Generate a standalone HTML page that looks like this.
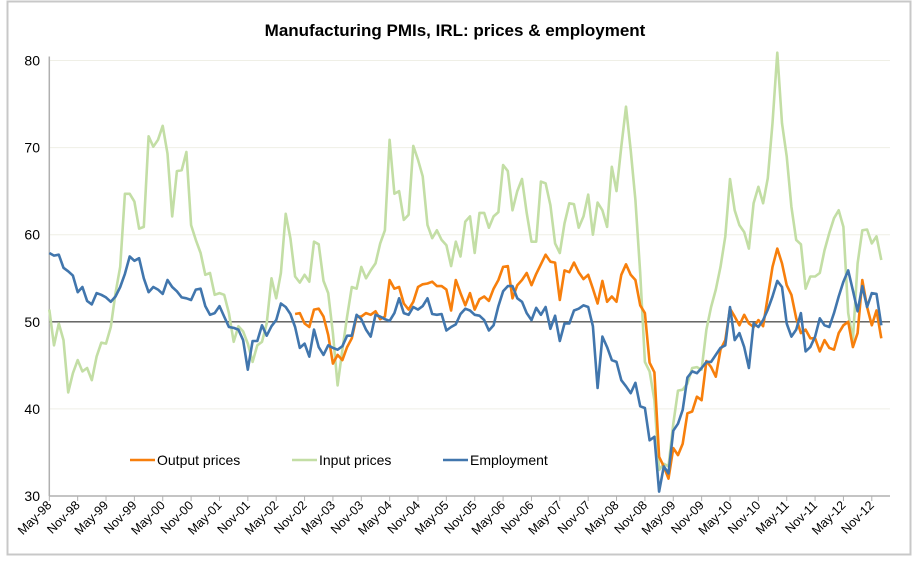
<!DOCTYPE html>
<html><head><meta charset="utf-8"><style>
html,body{margin:0;padding:0;background:#fff;}
svg{display:block;font-family:"Liberation Sans",sans-serif;}
</style></head><body>
<svg id="chart" width="919" height="562" xmlns="http://www.w3.org/2000/svg">
<rect x="7.5" y="1.5" width="903" height="553" fill="#fff" stroke="#c8c8c8" stroke-width="2"/>
<text x="455" y="36" text-anchor="middle" font-size="17" font-weight="bold" fill="#000">Manufacturing PMIs, IRL: prices &amp; employment</text>
<g id="grid"></g><g id="axes"></g><g id="series"></g><g id="legend"></g>
</svg>
<script>
const yTicks=[30,40,50,60,70,80];
const xLabels=["May-98","Nov-98","May-99","Nov-99","May-00","Nov-00","May-01","Nov-01","May-02","Nov-02","May-03","Nov-03","May-04","Nov-04","May-05","Nov-05","May-06","Nov-06","May-07","Nov-07","May-08","Nov-08","May-09","Nov-09","May-10","Nov-10","May-11","Nov-11","May-12","Nov-12"];
const employment=[57.9,57.6,57.7,56.2,55.8,55.3,53.4,54.0,52.4,52.0,53.3,53.1,52.8,52.3,52.9,54.0,55.5,57.5,57.0,57.3,55.0,53.4,54.0,53.7,53.2,54.8,54.0,53.5,52.8,52.7,52.5,53.7,53.8,51.8,50.8,51.0,51.8,50.6,49.4,49.3,49.1,47.9,44.5,47.8,47.8,49.6,48.4,49.5,50.2,52.1,51.7,50.9,49.4,47.0,47.5,46.0,49.1,47.1,46.2,47.3,47.0,46.8,47.2,48.4,48.4,50.8,50.3,49.1,48.3,50.8,50.6,50.3,50.1,51.0,52.7,51.0,50.8,51.7,51.4,51.8,52.7,50.9,50.8,50.9,49.0,49.4,49.7,50.9,51.5,51.3,50.8,50.7,50.2,49.0,49.6,51.8,53.5,54.1,54.1,52.7,52.3,51.0,50.2,51.6,50.8,51.7,49.2,50.7,47.8,49.8,49.8,51.3,51.5,51.9,51.7,49.5,42.4,48.3,47.1,45.6,45.4,43.3,42.6,41.8,43.0,40.3,40.1,36.4,36.8,30.5,33.4,32.6,37.5,38.3,39.9,43.6,44.3,44.1,44.7,45.4,45.4,46.2,47.0,47.3,51.7,47.9,48.7,47.1,44.7,49.8,49.4,50.2,51.4,52.9,54.7,54.0,49.8,48.3,49.1,51.0,46.6,47.1,48.3,50.4,49.6,49.4,51.0,52.9,54.6,55.9,53.6,51.2,54.1,51.7,53.3,53.2,49.6];
const inputPrices=[51.4,47.3,49.8,47.9,41.9,44.1,45.6,44.3,44.7,43.3,46.0,47.6,47.5,49.4,53.3,56.3,64.7,64.7,63.8,60.7,60.9,71.3,70.1,70.9,72.5,69.3,62.1,67.3,67.4,69.5,61.1,59.4,57.9,55.4,55.6,53.1,53.3,53.1,51.0,47.7,49.5,48.9,47.5,45.4,47.3,47.7,49.8,55.0,52.7,55.6,62.4,59.6,55.2,54.5,55.4,54.6,59.2,58.9,54.7,53.3,48.7,42.7,46.8,50.6,54.0,53.8,56.3,55.0,55.9,56.7,59.0,60.5,70.9,64.7,65.0,61.7,62.3,70.2,68.6,66.7,61.1,59.6,60.5,59.4,58.8,56.4,59.2,57.5,61.5,62.1,57.9,62.5,62.5,60.8,62.1,62.6,68.0,67.3,62.8,65.0,66.4,62.5,59.2,59.2,66.1,65.9,63.4,59.0,57.9,61.3,63.6,63.5,60.8,62.1,64.6,60.0,63.7,62.8,60.9,67.8,65.0,70.1,74.7,69.7,64.0,55.6,45.4,44.3,41.0,33.0,33.7,33.4,38.3,42.1,42.2,42.9,44.7,44.8,44.5,49.1,51.7,53.7,56.3,59.8,66.4,62.8,61.1,60.3,58.4,63.6,65.5,63.6,66.5,72.8,80.9,72.8,69.0,63.2,59.4,58.9,53.8,55.2,55.2,55.6,58.2,60.2,61.9,62.8,60.9,51.0,47.9,56.7,60.5,60.6,59.0,59.8,57.1];
const outputStart=52;
const outputPrices=[50.9,51.0,49.8,49.4,51.4,51.5,50.6,48.5,45.2,46.2,45.6,47.1,48.1,50.6,50.6,51.0,50.8,51.2,50.3,50.6,54.8,53.8,54.0,52.1,51.4,52.3,54.0,54.3,54.4,54.6,54.1,54.1,53.7,51.3,54.8,53.3,51.9,53.3,51.4,52.6,52.9,52.4,53.8,54.8,56.3,56.4,52.7,54.2,54.8,55.6,54.2,55.5,56.6,57.7,56.9,56.8,52.5,55.9,55.7,56.8,55.7,54.9,55.4,53.8,52.1,54.7,52.3,52.9,52.3,55.4,56.6,55.4,54.8,51.9,51.0,45.3,44.2,34.5,33.4,32.0,35.5,34.7,36.0,39.5,39.7,41.4,41.0,45.5,44.8,43.7,46.8,47.9,51.5,50.6,49.6,50.8,49.8,49.4,50.2,49.5,52.9,56.3,58.4,56.7,54.2,53.1,50.4,48.7,49.1,48.1,48.1,46.6,47.9,47.0,46.8,48.7,49.6,50.0,47.1,48.7,54.8,51.7,49.6,51.3,48.1];
const NS="http://www.w3.org/2000/svg";
const X0=49.3, DX=4.727, Y30=496, PPU=8.71, XR=890;
function xs(i){return X0+DX*i;}
function ys(v){return Y30-(v-30)*PPU;}
function mk(tag,attrs,parent){const e=document.createElementNS(NS,tag);for(const k in attrs)e.setAttribute(k,attrs[k]);parent.appendChild(e);return e;}
const grid=document.getElementById('grid'),axes=document.getElementById('axes'),series=document.getElementById('series'),legend=document.getElementById('legend');
yTicks.forEach(v=>{
  if(v>30){const g=mk('line',{x1:X0,x2:XR,y1:ys(v),y2:ys(v),stroke:'#efefe6','stroke-width':1},grid);
  
  }
  const t=mk('text',{x:40,y:ys(v)+5,'text-anchor':'end','font-size':14,fill:'#000'},axes);
  t.textContent=v;
  
  
});
const yax=mk('line',{x1:X0,x2:X0,y1:ys(80)-4,y2:Y30,stroke:'#b0b0b0','stroke-width':1.5},axes);


const xax=mk('line',{x1:X0,x2:XR,y1:Y30,y2:Y30,stroke:'#b0b0b0','stroke-width':1.5},axes);


const ref=mk('line',{x1:X0,x2:XR,y1:ys(50),y2:ys(50),stroke:'#555','stroke-width':1.3},axes);


xLabels.forEach((l,k)=>{
  const x=xs(k*6);
  const tk=mk('line',{x1:x,x2:x,y1:Y30,y2:Y30+5,stroke:'#b0b0b0','stroke-width':1},axes);
  
  
  const t=mk('text',{x:x+3,y:Y30+10,'text-anchor':'end','font-size':12.5,fill:'#000',transform:'rotate(-45 '+(x+3)+' '+(Y30+10)+')'},axes);
  t.textContent=l;
  
  
});
function drawLine(vals,start,color,name){
  const pts=vals.map((v,i)=>xs(i+start).toFixed(1)+','+ys(v).toFixed(1)).join(' ');
  const p=mk('polyline',{points:pts,fill:'none',stroke:color,'stroke-width':2.6,'stroke-linejoin':'round'},series);
  
  
}
drawLine(inputPrices,0,'#c3dea5','input-prices-line');
drawLine(outputPrices,outputStart,'#f77f0c','output-prices-line');
drawLine(employment,0,'#4176ad','employment-line');
const leg=[['Output prices','#f77f0c',130],['Input prices','#c3dea5',292],['Employment','#4176ad',443]];
leg.forEach(([n,c,x])=>{
  const l=mk('line',{x1:x,x2:x+25,y1:460,y2:460,stroke:c,'stroke-width':2.6},legend);
  
  
  const t=mk('text',{x:x+27,y:465,'font-size':14,fill:'#000'},legend);
  t.textContent=n;
  
  
});
</script>
</body></html>
